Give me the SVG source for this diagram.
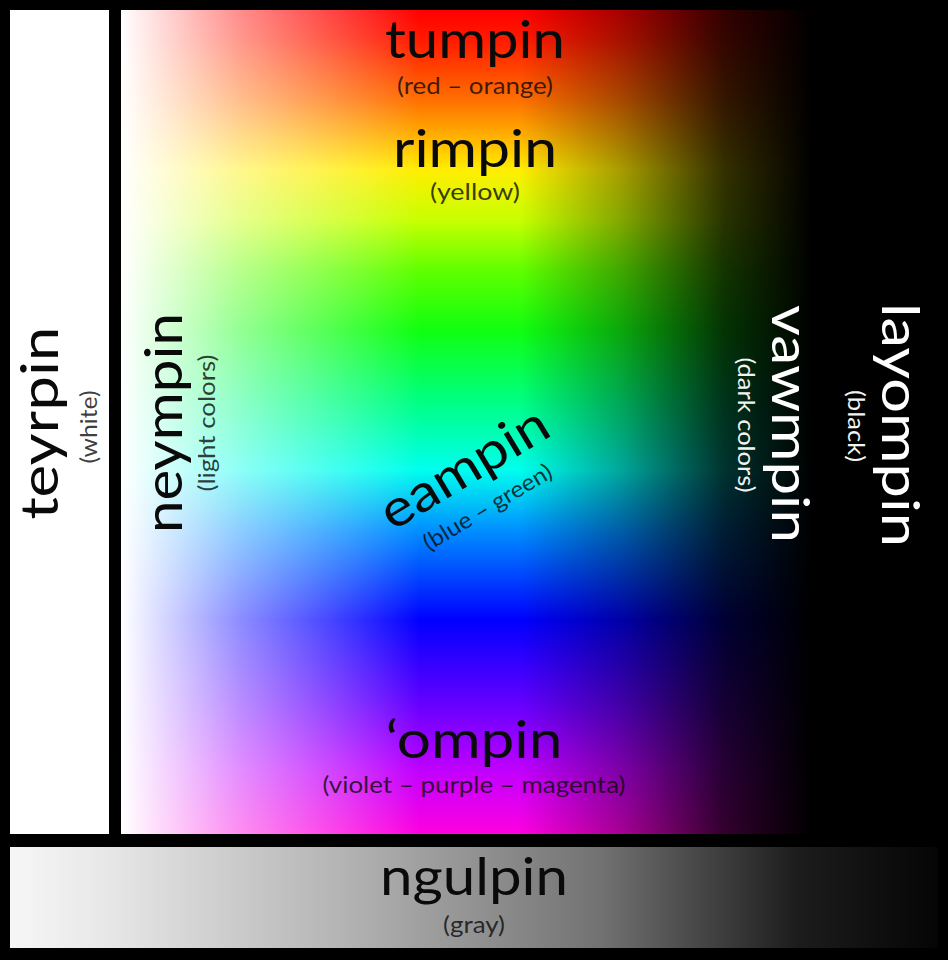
<svg xmlns="http://www.w3.org/2000/svg" width="948" height="960" viewBox="0 0 948 960">
<defs>
<linearGradient id="hue" gradientUnits="userSpaceOnUse" x1="0" y1="10" x2="0" y2="834">
<stop offset="0" stop-color="#ff0000"/>
<stop offset="0.036" stop-color="#ff1a00"/>
<stop offset="0.11" stop-color="#ff7000"/>
<stop offset="0.194" stop-color="#ffee00"/>
<stop offset="0.255" stop-color="#c8ff00"/>
<stop offset="0.316" stop-color="#60ff00"/>
<stop offset="0.388" stop-color="#10ff10"/>
<stop offset="0.473" stop-color="#00ff80"/>
<stop offset="0.558" stop-color="#00ffee"/>
<stop offset="0.631" stop-color="#0090ff"/>
<stop offset="0.74" stop-color="#0000ff"/>
<stop offset="0.837" stop-color="#6000ff"/>
<stop offset="0.922" stop-color="#c000ff"/>
<stop offset="1" stop-color="#ff00e0"/>
</linearGradient>
<linearGradient id="whiteFade" gradientUnits="userSpaceOnUse" x1="121" y1="0" x2="420" y2="0">
<stop offset="0" stop-color="#ffffff" stop-opacity="1"/>
<stop offset="0.4" stop-color="#ffffff" stop-opacity="0.55"/>
<stop offset="1" stop-color="#ffffff" stop-opacity="0"/>
</linearGradient>
<linearGradient id="blackFade" gradientUnits="userSpaceOnUse" x1="520" y1="0" x2="812" y2="0">
<stop offset="0" stop-color="#000000" stop-opacity="0"/>
<stop offset="0.35" stop-color="#000000" stop-opacity="0.35"/>
<stop offset="0.7" stop-color="#000000" stop-opacity="0.8"/>
<stop offset="1" stop-color="#000000" stop-opacity="1"/>
</linearGradient>
<linearGradient id="grayGrad" gradientUnits="userSpaceOnUse" x1="10" y1="0" x2="938" y2="0">
<stop offset="0" stop-color="#f6f6f6"/>
<stop offset="0.1" stop-color="#e8e8e8"/>
<stop offset="0.366" stop-color="#b2b2b2"/>
<stop offset="0.635" stop-color="#727272"/>
<stop offset="0.85" stop-color="#1c1c1c"/>
<stop offset="1" stop-color="#050505"/>
</linearGradient>
</defs>
<style>
text { font-family: Lato, "Open Sans", "DejaVu Sans", sans-serif; text-anchor: middle; }
.main { font-size: 52px; fill: #0a0a0a; }
.sub { font-size: 23px; fill: #0a0a0a; fill-opacity: 0.8; }
.mainW { font-size: 52px; fill: #ffffff; }
.subW { font-size: 23px; fill: #f2f2f2; }
</style>
<rect x="0" y="0" width="948" height="960" fill="#000000"/>
<rect id="white-column" x="10" y="10" width="99" height="824" fill="#ffffff"/>
<g id="color-field">
<rect x="121" y="10" width="691" height="824" fill="url(#hue)"/>
<rect x="121" y="10" width="300" height="824" fill="url(#whiteFade)"/>
<rect x="520" y="10" width="292" height="824" fill="url(#blackFade)"/>
</g>
<rect id="gray-bar" x="10" y="847" width="928" height="101" fill="url(#grayGrad)"/>
<g id="connectors"/>
<g id="tumpin">
<text class="main" x="475" y="58" textLength="180" lengthAdjust="spacingAndGlyphs">tumpin</text>
<text class="sub" x="475" y="94" textLength="156" lengthAdjust="spacingAndGlyphs">(red – orange)</text>
</g>
<g id="rimpin">
<text class="main" x="475" y="167" textLength="164" lengthAdjust="spacingAndGlyphs">rimpin</text>
<text class="sub" x="475" y="200" textLength="90" lengthAdjust="spacingAndGlyphs">(yellow)</text>
</g>
<g id="eampin" transform="translate(473,483) rotate(-31)">
<text class="main" x="0" y="0" textLength="188" lengthAdjust="spacingAndGlyphs">eampin</text>
<text class="sub" x="0" y="36" textLength="146" lengthAdjust="spacingAndGlyphs">(blue – green)</text>
</g>
<g id="ompin">
<text class="main" x="474" y="758" textLength="177" lengthAdjust="spacingAndGlyphs">‘ompin</text>
<text class="sub" x="474" y="793" textLength="303" lengthAdjust="spacingAndGlyphs">(violet – purple – magenta)</text>
</g>
<g id="ngulpin">
<text class="main" x="474" y="895" textLength="188" lengthAdjust="spacingAndGlyphs">ngulpin</text>
<text class="sub" x="474" y="933" textLength="62" lengthAdjust="spacingAndGlyphs">(gray)</text>
</g>
<g id="teyrpin">
<text class="main" transform="translate(58,423) rotate(-90)" textLength="193" lengthAdjust="spacingAndGlyphs">teyrpin</text>
<text class="sub" transform="translate(97,427) rotate(-90)" textLength="73" lengthAdjust="spacingAndGlyphs">(white)</text>
</g>
<g id="neympin">
<text class="main" transform="translate(182,423) rotate(-90)" textLength="220" lengthAdjust="spacingAndGlyphs">neympin</text>
<text class="sub" transform="translate(215,423) rotate(-90)" textLength="137" lengthAdjust="spacingAndGlyphs">(light colors)</text>
</g>
<g id="vawmpin">
<text class="mainW" transform="translate(772,424) rotate(90)" textLength="238" lengthAdjust="spacingAndGlyphs">vawmpin</text>
<text class="subW" transform="translate(738,425) rotate(90)" textLength="135" lengthAdjust="spacingAndGlyphs">(dark colors)</text>
</g>
<g id="layompin">
<text class="mainW" transform="translate(882,425) rotate(90)" textLength="244" lengthAdjust="spacingAndGlyphs">layompin</text>
<text class="subW" transform="translate(848,426) rotate(90)" textLength="72" lengthAdjust="spacingAndGlyphs">(black)</text>
</g>
</svg>
